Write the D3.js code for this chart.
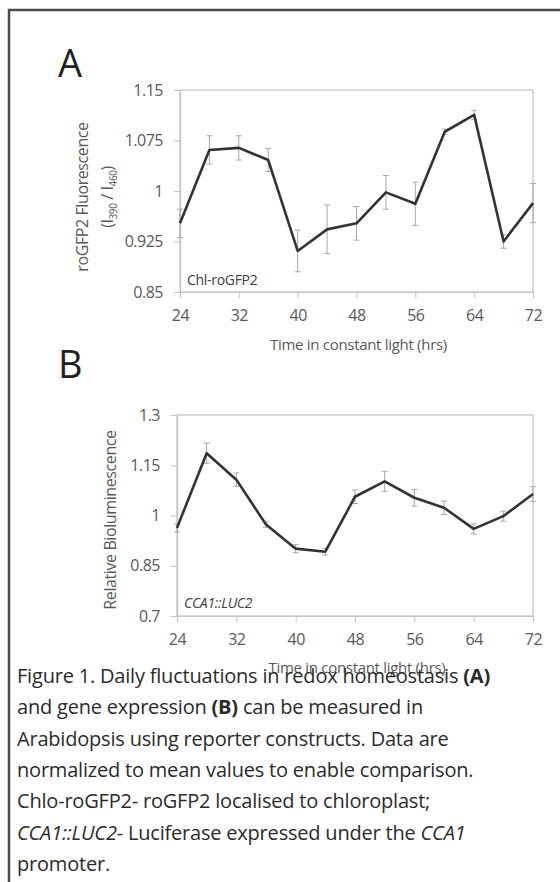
<!DOCTYPE html>
<html>
<head>
<meta charset="utf-8">
<script src="https://cdn.jsdelivr.net/npm/d3@7"></script>
<style>
	body { margin: 0; background: #fff; }
	svg { display: block; font-family: 'Open Sans', sans-serif; }
</style>
</head>
<body>
<div id="figure"></div>
<script>
// values
let hours = [24, 28, 32, 36, 40, 44, 48, 52, 56, 60, 64, 68, 72];
let xTicks = [24, 32, 40, 48, 56, 64, 72];

let chlMean = [0.952, 1.061, 1.064, 1.046, 0.911, 0.943, 0.952, 0.998, 0.981, 1.088, 1.113, 0.925, 0.982];
let chlErr  = [0.021, 0.021, 0.018, 0.017, 0.031, 0.036, 0.025, 0.025, 0.032, 0.004, 0.007, 0.010, 0.029];
let chlTicks = [0.85, 0.925, 1, 1.075, 1.15];

let lucMean = [0.963, 1.186, 1.107, 0.973, 0.901, 0.892, 1.056, 1.102, 1.053, 1.023, 0.960, 0.998, 1.064];
let lucErr  = [0.012, 0.030, 0.020, 0.008, 0.012, 0.010, 0.020, 0.030, 0.025, 0.020, 0.015, 0.015, 0.022];
let lucTicks = [0.7, 0.85, 1, 1.15, 1.3];

let width = 560;
let height = 882;

let svg = d3.select('#figure')
	.append('svg')
	.attr('width', width)
	.attr('height', height);

// outer frame (runs off the right and bottom edge)
svg.append('path')
	.attr('d', 'M9,' + (height + 5) + ' L9,10 L' + (width + 5) + ',10')
	.attr('fill', 'none')
	.attr('stroke', '#4a4a4a')
	.attr('stroke-width', 2.5);

function panel(opts){
	let x = d3.scaleLinear().domain([24, 72]).range([opts.left, 533]);
	let y = d3.scaleLinear().domain(opts.domain).range([opts.bottom, opts.top]);
	let g = svg.append('g');

	// plot box
	g.append('rect')
		.attr('x', x(24)).attr('y', y(opts.domain[1]))
		.attr('width', x(72) - x(24)).attr('height', y(opts.domain[0]) - y(opts.domain[1]))
		.attr('fill', 'none')
		.attr('stroke', '#c4c4c4')
		.attr('stroke-width', 1.2);

	let yAxis = g.append('g')
		.attr('transform', 'translate(' + x(24) + ',0)')
		.call(d3.axisLeft(y).tickValues(opts.ticks).tickSize(6).tickPadding(11)
			.tickFormat(function(d){ return String(+d.toFixed(3)); }));

	let xAxis = g.append('g')
		.attr('transform', 'translate(0,' + y(opts.domain[0]) + ')')
		.call(d3.axisBottom(x).tickValues(xTicks).tickSize(6).tickPadding(12));

	[yAxis, xAxis].forEach(function(a){
		a.select('.domain').attr('stroke', '#c4c4c4').attr('stroke-width', 1.2);
		a.selectAll('line').attr('stroke', '#c4c4c4');
		a.selectAll('text')
			.attr('fill', '#595959')
			.attr('font-size', 16)
			.attr('font-family', "'Open Sans', sans-serif")
			.attr('letter-spacing', '-0.5px');
	});

	// error bars
	let bars = g.append('g')
		.selectAll('g')
		.data(hours)
		.enter()
		.append('g')
		.attr('stroke', '#a8a8a8')
		.attr('stroke-width', 1);

	bars.append('line')
		.attr('x1', function(d){ return x(d); })
		.attr('x2', function(d){ return x(d); })
		.attr('y1', function(d, i){ return y(opts.mean[i] - opts.err[i]); })
		.attr('y2', function(d, i){ return y(opts.mean[i] + opts.err[i]); });
	[-1, 1].forEach(function(s){
		bars.append('line')
			.attr('x1', function(d){ return x(d) - 3; })
			.attr('x2', function(d){ return x(d) + 3; })
			.attr('y1', function(d, i){ return y(opts.mean[i] + s * opts.err[i]); })
			.attr('y2', function(d, i){ return y(opts.mean[i] + s * opts.err[i]); });
	});

	g.append('path')
		.datum(hours)
		.attr('d', d3.line()
			.x(function(d){ return x(d); })
			.y(function(d, i){ return y(opts.mean[i]); }))
		.attr('fill', 'none')
		.attr('stroke', '#333')
		.attr('stroke-width', 2.6)
		.attr('stroke-linejoin', 'round');

	// x axis title
	g.append('text')
		.attr('x', (x(24) + x(72)) / 2 + 2)
		.attr('y', opts.xTitleY)
		.attr('text-anchor', 'middle')
		.attr('font-size', 15)
		.attr('fill', '#595959')
		.attr('letter-spacing', '-0.3px')
		.text('Time in constant light (hrs)');

	// panel letter
	g.append('text')
		.attr('x', opts.letterX)
		.attr('y', opts.letterY)
		.attr('font-size', 38)
		.attr('fill', '#222')
		.text(opts.letter);

	// construct label inside plot
	g.append('text')
		.attr('x', x(24) + 7)
		.attr('y', opts.labelY)
		.attr('font-size', 14)
		.attr('fill', '#404040')
		.attr('font-style', opts.italic ? 'italic' : 'normal')
		.attr('letter-spacing', '-0.3px')
		.text(opts.label);

	return g;
}

let pa = panel({
	letter: 'A', letterX: 58, letterY: 77,
	left: 180, top: 90, bottom: 292,
	domain: [0.85, 1.15], ticks: chlTicks,
	mean: chlMean, err: chlErr,
	label: 'Chl-roGFP2', labelY: 285, italic: false,
	xTitleY: 350
});

let pb = panel({
	letter: 'B', letterX: 58, letterY: 378,
	left: 177, top: 415, bottom: 616,
	domain: [0.7, 1.3], ticks: lucTicks,
	mean: lucMean, err: lucErr,
	label: 'CCA1::LUC2', labelY: 608, italic: true,
	xTitleY: 673
});

// y axis titles
let ta = svg.append('text')
	.attr('transform', 'translate(88,197) rotate(-90)')
	.attr('text-anchor', 'middle')
	.attr('font-size', 16)
	.attr('fill', '#595959')
	.attr('letter-spacing', '-0.4px');
ta.append('tspan').attr('x', 0).attr('y', 0).text('roGFP2 Fluorescence');
let t2 = ta.append('tspan').attr('x', 0).attr('y', 25);
t2.append('tspan').text('(I');
t2.append('tspan').attr('font-size', 10).attr('dy', 4).text('390');
t2.append('tspan').attr('dy', -4).text(' / I');
t2.append('tspan').attr('font-size', 10).attr('dy', 4).text('460');
t2.append('tspan').attr('dy', -4).text(')');

svg.append('text')
	.attr('transform', 'translate(116,520) rotate(-90)')
	.attr('text-anchor', 'middle')
	.attr('font-size', 16)
	.attr('fill', '#595959')
	.attr('letter-spacing', '-0.4px')
	.text('Relative Bioluminescence');

// caption
let caption = [
	[['Figure 1. Daily fluctuations in redox homeostasis ', ''], ['(A)', 'b']],
	[['and gene expression ', ''], ['(B)', 'b'], [' can be measured in', '']],
	[['Arabidopsis using reporter constructs. Data are', '']],
	[['normalized to mean values to enable comparison.', '']],
	[['Chlo-roGFP2- roGFP2 localised to chloroplast;', '']],
	[['CCA1::LUC2', 'i'], ['- Luciferase expressed under the ', ''], ['CCA1', 'i']],
	[['promoter.', '']]
];

let cap = svg.append('g');
caption.forEach(function(line, i){
	let t = cap.append('text')
		.attr('x', 17)
		.attr('y', 683 + i * 31.3)
		.attr('font-size', 20)
		.attr('fill', '#2b2b2b')
		.attr('letter-spacing', '-0.2px');
	line.forEach(function(part){
		t.append('tspan')
			.attr('font-weight', part[1] === 'b' ? 'bold' : null)
			.attr('font-style', part[1] === 'i' ? 'italic' : null)
			.text(part[0]);
	});
});
</script>
</body>
</html>
